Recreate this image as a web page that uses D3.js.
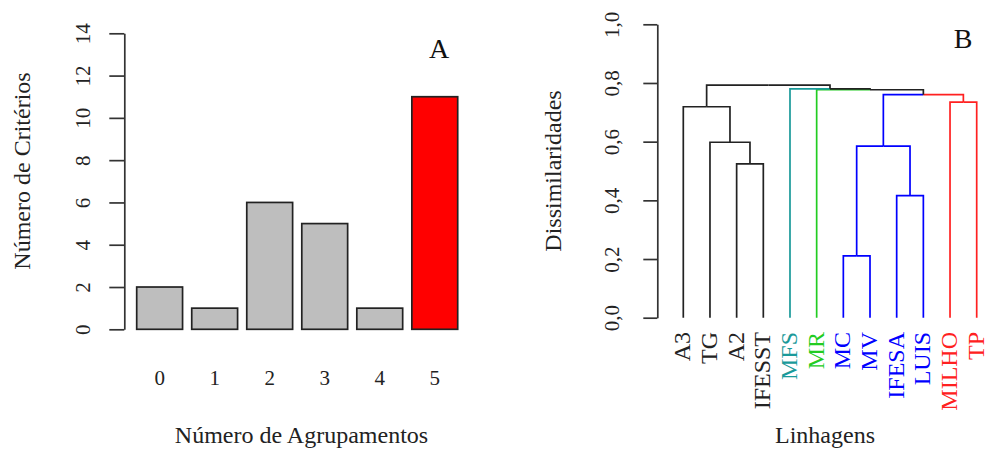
<!DOCTYPE html>
<html>
<head>
<meta charset="utf-8">
<script src="https://cdn.jsdelivr.net/npm/d3@7"></script>
<style>
  body { margin: 0; background: #fff; }
  svg text { font-family: "Liberation Serif", "Times New Roman", Times, serif; }
  .axis path, .axis line { stroke: #333; stroke-width: 1.7; }
  .axis text { font-size: 21px; fill: #222; }
</style>
</head>
<body>
<svg id="chart" width="987" height="452"></svg>
<script>
// panel A data
var groups = ["0", "1", "2", "3", "4", "5"];
var criterios = [2, 1, 6, 5, 1, 11];
var barColors = ["#bebebe", "#bebebe", "#bebebe", "#bebebe", "#bebebe", "#ff0000"];
var yTicksA = [0, 2, 4, 6, 8, 10, 12, 14];

// panel B data (hclust style merges: negative = leaf, positive = merge step)
var leaves = ["A3", "TG", "A2", "IFESST", "MFS", "MR", "MC", "MV", "IFESA", "LUIS", "MILHO", "TP"];
var leafColors = ["#222", "#222", "#222", "#222", "#1a9a9a", "#22cc22",
                  "#0000ff", "#0000ff", "#0000ff", "#0000ff", "#ff2020", "#ff2020"];
var mergeLeft   = [-3, -2, -1, -7, -9, 4, -11, 6, -6, -5, 3];
var mergeRight  = [-4,  1,  2, -8, -10, 5, -12, 7,  8,  9, 10];
var mergeHeight = [0.524, 0.598, 0.719, 0.211, 0.416, 0.585, 0.735, 0.760, 0.777, 0.780, 0.793];
var yTicksB = [0, 0.2, 0.4, 0.6, 0.8, 1.0];

var svg = d3.select("#chart");
var fmt = d3.format(".1f");

// R style: y labels parallel to the axis
function rotateTicks(axisG, offset) {
  axisG.attr("font-family", null);
  axisG.selectAll(".tick text")
      .attr("x", null).attr("dy", null)
      .attr("text-anchor", "middle")
      .attr("transform", "translate(" + offset + ",0) rotate(-90)");
}

// ---------- panel A ----------
var xA = d3.scaleBand().domain(groups).range([136.7, 457.7]).paddingInner(1 / 6).paddingOuter(0);
var yA = d3.scaleLinear().domain([0, 14]).range([329.3, 33.3]);

var axA = svg.append("g")
    .attr("class", "axis")
    .attr("transform", "translate(124.3,0)")
    .call(d3.axisLeft(yA).tickValues(yTicksA).tickSize(15).tickSizeOuter(0));
rotateTicks(axA, -34);

svg.selectAll(".bar")
  .data(criterios)
  .enter().append("rect")
    .attr("class", "bar")
    .attr("x", function(d, i) { return xA(groups[i]); })
    .attr("y", function(d) { return yA(d); })
    .attr("width", xA.bandwidth())
    .attr("height", function(d) { return yA(0) - yA(d); })
    .attr("fill", function(d, i) { return barColors[i]; })
    .attr("stroke", "#222")
    .attr("stroke-width", 1.7);

svg.selectAll(".grp")
  .data(groups)
  .enter().append("text")
    .attr("class", "grp")
    .attr("x", function(d) { return xA(d) + xA.bandwidth() / 2; })
    .attr("y", 384.5)
    .attr("text-anchor", "middle")
    .style("font-size", "21px")
    .attr("fill", "#222")
    .text(function(d) { return d; });

svg.append("text")
    .attr("x", 301.5).attr("y", 443)
    .attr("text-anchor", "middle")
    .style("font-size", "24px").attr("fill", "#222")
    .text("Número de Agrupamentos");

svg.append("text")
    .attr("transform", "translate(30,171) rotate(-90)")
    .attr("text-anchor", "middle")
    .style("font-size", "24px").attr("fill", "#222")
    .text("Número de Critérios");

svg.append("text")
    .attr("x", 439).attr("y", 58)
    .attr("text-anchor", "middle")
    .style("font-size", "28px").attr("fill", "#111")
    .text("A");

// ---------- panel B ----------
var xB = d3.scalePoint().domain(leaves).range([683.3, 976.7]);
var yB = d3.scaleLinear().domain([0, 1]).range([317.7, 24.3]);

var axB = svg.append("g")
    .attr("class", "axis")
    .attr("transform", "translate(657.3,0)")
    .call(d3.axisLeft(yB).tickValues(yTicksB).tickSize(14).tickSizeOuter(0)
      .tickFormat(function(d) { return fmt(d).replace(".", ","); }));
rotateTicks(axB, -38);

// node positions from the merges
var nodes = [];
function nodeOf(id) {
  if (id < 0) {
    var k = -id - 1;
    return { x: xB(leaves[k]), h: 0, color: leafColors[k] };
  }
  return nodes[id - 1];
}
mergeLeft.forEach(function(l, i) {
  var a = nodeOf(l), b = nodeOf(mergeRight[i]);
  nodes.push({
    x: (a.x + b.x) / 2,
    h: mergeHeight[i],
    color: a.color === b.color ? a.color : "#222",
    kids: [a, b]
  });
});

var edges = [];
nodes.forEach(function(n) {
  n.kids.forEach(function(c) {
    edges.push({ px: n.x, ph: n.h, cx: c.x, ch: c.h, color: c.color });
  });
});

svg.selectAll(".edge")
  .data(edges)
  .enter().append("path")
    .attr("class", "edge")
    .attr("fill", "none")
    .attr("stroke", function(d) { return d.color; })
    .attr("stroke-width", 1.7)
    .attr("d", function(d) {
      return "M" + d.px + "," + yB(d.ph) + "H" + d.cx + "V" + yB(d.ch);
    });

svg.selectAll(".leaf")
  .data(leaves)
  .enter().append("text")
    .attr("class", "leaf")
    .attr("transform", function(d) { return "translate(" + (xB(d) + 7) + ",332) rotate(-90)"; })
    .attr("text-anchor", "end")
    .style("font-size", "24px")
    .attr("fill", function(d, i) { return leafColors[i]; })
    .text(function(d) { return d; });

svg.append("text")
    .attr("x", 825).attr("y", 443)
    .attr("text-anchor", "middle")
    .style("font-size", "24px").attr("fill", "#222")
    .text("Linhagens");

svg.append("text")
    .attr("transform", "translate(561,171) rotate(-90)")
    .attr("text-anchor", "middle")
    .style("font-size", "24px").attr("fill", "#222")
    .text("Dissimilaridades");

svg.append("text")
    .attr("x", 963).attr("y", 48)
    .attr("text-anchor", "middle")
    .style("font-size", "28px").attr("fill", "#111")
    .text("B");
</script>
</body>
</html>
